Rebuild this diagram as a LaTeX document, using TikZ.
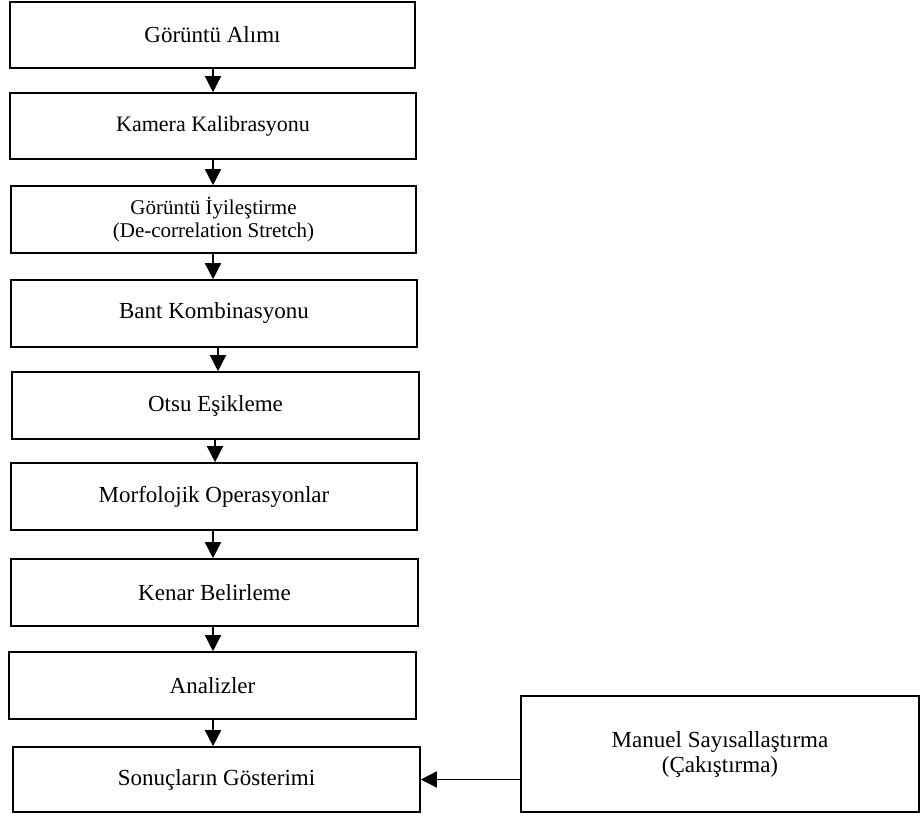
\documentclass[tikz,border=0pt]{standalone}
\usepackage{fontspec}
\setmainfont{Liberation Serif}
\usetikzlibrary{arrows.meta}
\begin{document}
\begin{tikzpicture}[x=1pt,y=-1pt,
  box/.style={draw=black,line width=1.6pt,inner sep=0pt,align=center,font=\fontsize{23}{25}\selectfont},
  midbox/.style={box,font=\fontsize{22}{24}\selectfont},
  smallbox/.style={box,font=\fontsize{21}{23}\selectfont},
  arr/.style={draw=black,line width=1.5pt,-{Triangle[width=16pt,length=16pt]}}]
\useasboundingbox (0,0) rectangle (921,818);
\node[box,minimum width=405pt,minimum height=66pt] (b1) at (212.5,35) {Görüntü Alımı};
\node[midbox,minimum width=406pt,minimum height=66pt] (b2) at (213,126) {Kamera Kalibrasyonu};
\node[smallbox,minimum width=405pt,minimum height=67pt] (b3) at (213.5,219.5) {Görüntü İyileştirme\\(De-correlation Stretch)};
\node[box,minimum width=406pt,minimum height=67pt] (b4) at (214,313.5) {Bant Kombinasyonu};
\node[box,minimum width=407pt,minimum height=67pt] (b5) at (215.5,405.5) {Otsu Eşikleme};
\node[box,minimum width=406pt,minimum height=67pt] (b6) at (214,496.5) {Morfolojik Operasyonlar};
\node[box,minimum width=407pt,minimum height=67pt] (b7) at (214.5,592.5) {Kenar Belirleme};
\node[box,minimum width=407pt,minimum height=67pt] (b8) at (212.5,685.5) {Analizler};
\node[box,minimum width=407pt,minimum height=65pt] (b9) at (216.5,779.5) {Sonuçların Gösterimi};
\node[box,minimum width=398pt,minimum height=116pt] (m) at (720,754) {Manuel Sayısallaştırma\\(Çakıştırma)};
\draw[arr] (b1.south -| 213,0) -- (b2.north -| 213,0);
\draw[arr] (b2.south -| 213,0) -- (b3.north -| 213,0);
\draw[arr] (b3.south -| 213,0) -- (b4.north -| 213,0);
\draw[arr] (b4.south -| 218,0) -- (b5.north -| 218,0);
\draw[arr] (b5.south -| 215,0) -- (b6.north -| 215,0);
\draw[arr] (b6.south -| 213,0) -- (b7.north -| 213,0);
\draw[arr] (b7.south -| 213,0) -- (b8.north -| 213,0);
\draw[arr] (b8.south -| 213,0) -- (b9.north -| 213,0);
\draw[arr] (m.west |- b9.east) -- (b9.east);
\end{tikzpicture}
\end{document}
